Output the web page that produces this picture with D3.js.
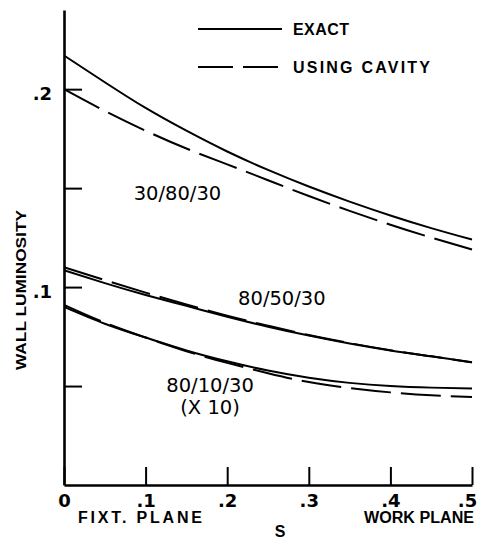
<!DOCTYPE html>
<html>
<head>
<meta charset="utf-8">
<script src="https://cdn.jsdelivr.net/npm/d3@7"></script>
<style>
  body { margin: 0; background: #fff; }
  svg { display: block; }
</style>
</head>
<body>
<div id="chart"></div>
<script>
// values, S from fixture plane (0) to work plane (.5)
const sValues = [0, 0.05, 0.1, 0.15, 0.2, 0.25, 0.3, 0.35, 0.4, 0.45, 0.5];

const exact308030  = [0.217, 0.2035, 0.1905, 0.1790, 0.1685, 0.1592, 0.1508, 0.1432, 0.1362, 0.1298, 0.1240];
const cavity308030 = [0.200, 0.1890, 0.1790, 0.1700, 0.1620, 0.1540, 0.1460, 0.1385, 0.1315, 0.1250, 0.1190];

const exact805030  = [0.1085, 0.1020, 0.0960, 0.0905, 0.0850, 0.0800, 0.0755, 0.0715, 0.0680, 0.0650, 0.0620];
const cavity805030 = [0.1100, 0.1035, 0.0972, 0.0912, 0.0855, 0.0805, 0.0758, 0.0717, 0.0681, 0.0650, 0.0620];

const exact801030  = [0.0900, 0.0815, 0.0745, 0.0680, 0.0625, 0.0578, 0.0542, 0.0516, 0.0500, 0.0492, 0.0488];
const cavity801030 = [0.0910, 0.0820, 0.0745, 0.0676, 0.0617, 0.0565, 0.0520, 0.0490, 0.0468, 0.0453, 0.0445];

const xTicks = [0, 0.1, 0.2, 0.3, 0.4, 0.5];
const yTicks = [0.05, 0.1, 0.15, 0.2];
const yLabeled = [0.1, 0.2];

const W = 479, H = 542;
const margin = {top: 10, right: 7, bottom: 57, left: 64};

const svg = d3.select("#chart").append("svg")
    .attr("width", W)
    .attr("height", H);

const x = d3.scaleLinear().domain([0, 0.5]).range([margin.left, W - margin.right]);
const y = d3.scaleLinear().domain([0, 0.24]).range([H - margin.bottom, margin.top]);

// strip leading zero: ".1", ".2"
const fmt = d => d === 0 ? "0" : d3.format(".1f")(d).replace(/^0/, "");

// axes, ticks point inward
const xAxis = svg.append("g")
    .attr("transform", "translate(0," + (H - margin.bottom) + ")")
    .call(d3.axisBottom(x).tickValues(xTicks).tickSizeInner(-18).tickSizeOuter(0).tickPadding(9).tickFormat(fmt));

const yAxis = svg.append("g")
    .attr("transform", "translate(" + margin.left + ",0)")
    .call(d3.axisLeft(y).tickValues(yTicks).tickSizeInner(-18).tickSizeOuter(0).tickPadding(12)
        .tickFormat(d => yLabeled.includes(d) ? fmt(d) : ""));

[xAxis, yAxis].forEach(g => {
    g.select(".domain").attr("stroke", "#000").attr("stroke-width", 2.6);
    g.selectAll(".tick line").attr("stroke", "#000").attr("stroke-width", 2);
    g.selectAll(".tick text")
        .attr("fill", "#000")
        .style("font-family", "'DejaVu Sans', sans-serif")
        .style("font-weight", "bold")
        .style("font-size", "18px");
});
xAxis.selectAll(".tick text").attr("dy", "0.72em");
// last label sits against the right edge
xAxis.selectAll(".tick text").filter(d => d === 0.5).attr("dx", -5);
yAxis.selectAll(".tick text").attr("dy", "0.6em");

// curves
const line = d3.line()
    .x((d, i) => x(sValues[i]))
    .y(d => y(d))
    .curve(d3.curveNatural);

const series = [
    {values: exact308030, dashed: false},
    {values: cavity308030, dashed: true},
    {values: exact805030, dashed: false},
    {values: cavity805030, dashed: true},
    {values: exact801030, dashed: false},
    {values: cavity801030, dashed: true}
];

svg.append("g")
    .selectAll("path")
    .data(series)
    .enter()
    .append("path")
        .attr("d", d => line(d.values))
        .attr("fill", "none")
        .attr("stroke", "#000")
        .attr("stroke-width", 2)
        .attr("stroke-dasharray", d => d.dashed ? "40,10" : null);

// curve labels (the 80/10/30 one has a second line)
const curveLabels = [
    {lines: ["30/80/30"], s: 0.139, v: 0.144},
    {lines: ["80/50/30"], s: 0.267, v: 0.091},
    {lines: ["80/10/30", "(X 10)"], s: 0.179, v: 0.047}
];

svg.append("g")
    .selectAll("text")
    .data(curveLabels)
    .enter()
    .append("text")
        .attr("x", d => x(d.s))
        .attr("y", d => y(d.v))
        .attr("text-anchor", "middle")
        .style("font-family", "'DejaVu Sans', sans-serif")
        .style("font-size", "19.5px")
        .each(function(d) {
            const t = d3.select(this);
            d.lines.forEach((ln, i) => {
                t.append("tspan")
                    .attr("x", x(d.s))
                    .attr("dy", i === 0 ? 0 : 22.5)
                    .text(ln);
            });
        });

// legend
const legendItems = [
    {label: "EXACT", dashed: false, yPos: 29, width: 56},
    {label: "USING CAVITY", dashed: true, yPos: 67, width: 137}
];

const legend = svg.append("g");
legendItems.forEach(item => {
    legend.append("line")
        .attr("x1", 198).attr("x2", 282)
        .attr("y1", item.yPos).attr("y2", item.yPos)
        .attr("stroke", "#000")
        .attr("stroke-width", 2)
        .attr("stroke-dasharray", item.dashed ? "35,10" : null);
    legend.append("text")
        .attr("x", 293)
        .attr("y", item.yPos + 6)
        .attr("textLength", item.width)
        .attr("lengthAdjust", "spacing")
        .style("font-family", "'Liberation Sans', sans-serif")
        .style("font-weight", "bold")
        .style("font-size", "16px")
        .text(item.label);
});

// axis titles
const titleStyle = sel => sel
    .style("font-family", "'Liberation Sans', sans-serif")
    .style("font-weight", "bold")
    .style("font-size", "16px");

svg.append("text")
    .attr("transform", "translate(26,290) rotate(-90)")
    .attr("text-anchor", "middle")
    .attr("textLength", 160)
    .attr("lengthAdjust", "spacingAndGlyphs")
    .call(titleStyle)
    .style("font-size", "14px")
    .text("WALL LUMINOSITY");

svg.append("text")
    .attr("x", 78).attr("y", 523)
    .attr("textLength", 124)
    .attr("lengthAdjust", "spacing")
    .call(titleStyle)
    .text("FIXT. PLANE");

svg.append("text")
    .attr("x", 364).attr("y", 523)
    .attr("textLength", 110)
    .attr("lengthAdjust", "spacingAndGlyphs")
    .call(titleStyle)
    .text("WORK PLANE");

svg.append("text")
    .attr("x", 280).attr("y", 537)
    .attr("text-anchor", "middle")
    .call(titleStyle)
    .text("S");
</script>
</body>
</html>
